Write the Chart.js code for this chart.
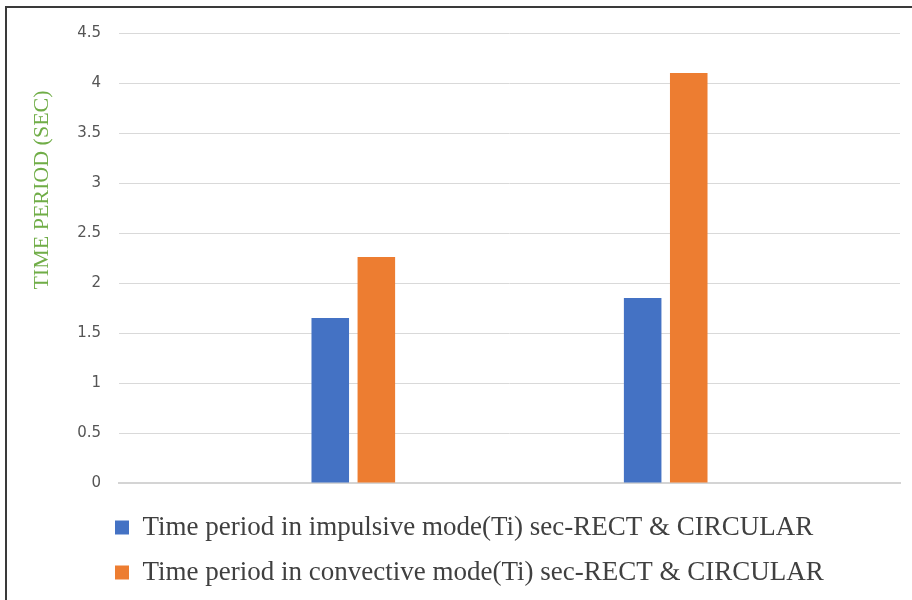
<!DOCTYPE html>
<html>
<head>
<meta charset="utf-8">
<script src="https://cdn.jsdelivr.net/npm/chart.js@4"></script>
<style>
  body { margin: 0; background: #fff; }
  #wrap { position: relative; width: 912px; height: 600px; overflow: hidden; }
  #frame {
    position: absolute; left: 5px; top: 6px; right: -10px; bottom: -10px;
    border: 2px solid #3a3a3a; pointer-events: none;
  }
</style>
</head>
<body>
<div id="wrap">
  <canvas id="chart" width="912" height="600"></canvas>
  <div id="frame"></div>
</div>
<script>
const categories = ["", "", "", "", ""];
const impulsive = [null, 1.65, null, 1.85, null];
const convective = [null, 2.26, null, 4.1, null];
const yTicks = [0, 0.5, 1, 1.5, 2, 2.5, 3, 3.5, 4, 4.5];
const yTitle = "TIME PERIOD (SEC)";

//y axis title, drawn a bit above the middle like the original
const yTitlePlugin = {
  id: "yTitle",
  afterLayout(chart) {
    // legend starts under the plot, not at the canvas edge
    chart.legend.left = 97;
  },
  afterDraw(chart) {
    const ctx = chart.ctx;
    ctx.save();
    ctx.translate(42, 190);
    ctx.rotate(-Math.PI / 2);
    ctx.font = "22px 'Liberation Serif'";
    ctx.fillStyle = "#70AD47";
    ctx.textAlign = "center";
    ctx.textBaseline = "middle";
    ctx.fillText(yTitle, 0, 0);
    ctx.restore();
  },
};

const chart = document.getElementById("chart").getContext("2d");

new Chart(chart, {
  type: "bar",
  data: {
    labels: categories,
    datasets: [
      {
        label: "Time period in impulsive mode(Ti) sec-RECT & CIRCULAR",
        data: impulsive,
        backgroundColor: "#4472C4",
        categoryPercentage: 0.59,
        barPercentage: 0.815,
      },
      {
        label: "Time period in convective mode(Ti) sec-RECT & CIRCULAR",
        data: convective,
        backgroundColor: "#ED7D31",
        categoryPercentage: 0.59,
        barPercentage: 0.815,
      },
    ],
  },
  options: {
    responsive: false,
    animation: false,
    layout: {
      padding: { left: 30, top: 33, right: 12, bottom: 4 },
    },
    plugins: {
      tooltip: { enabled: false },
      legend: {
        position: "bottom",
        align: "start",
        labels: {
          font: { family: "'Liberation Serif'", size: 27 },
          color: "#404040",
          padding: 18,
          boxWidth: 14,
          boxHeight: 14,
        },
      },
    },
    scales: {
      x: {
        grid: { display: false, drawTicks: false },
        border: { color: "#d4d4d4", width: 2 },
        ticks: { display: false },
        afterFit(scale) {
          scale.height = 13;
        },
      },
      y: {
        min: 0,
        max: 4.5,
        afterBuildTicks(scale) {
          scale.ticks = yTicks.map((v) => ({ value: v }));
        },
        grid: { color: "#d9d9d9", lineWidth: 1, drawTicks: false },
        border: { display: false },
        ticks: {
          padding: 18,
          color: "#555555",
          font: { family: "'DejaVu Sans'", size: 15 },
          callback: (v) => String(v),
        },
        afterFit(scale) {
          scale.width = 89;
        },
      },
    },
  },
  plugins: [yTitlePlugin],
});
</script>
</body>
</html>
